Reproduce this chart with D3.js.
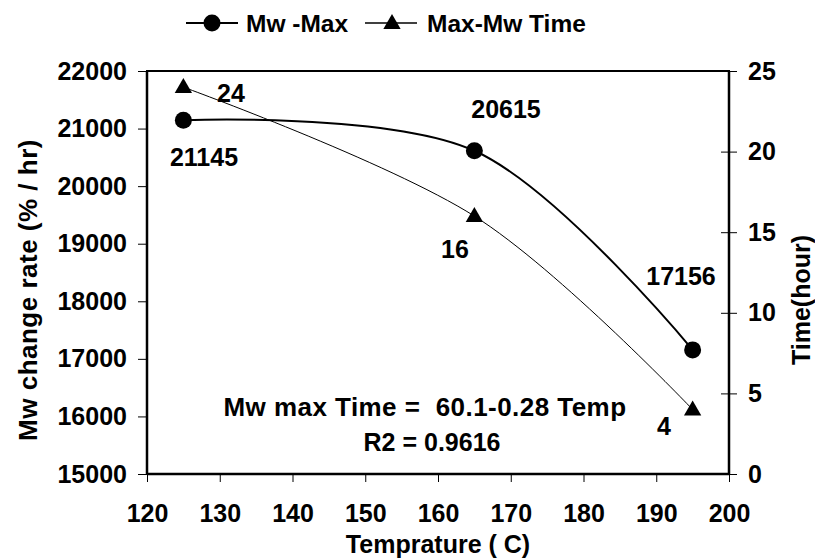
<!DOCTYPE html>
<html>
<head>
<meta charset="utf-8">
<script src="https://cdn.jsdelivr.net/npm/d3@7"></script>
<style>
  html, body { margin: 0; padding: 0; background: #fff; }
  svg { display: block; }
  text { font-family: "Liberation Sans", Arial, sans-serif; font-weight: bold; fill: #000; }
</style>
</head>
<body>
<svg id="chart" width="815" height="560"></svg>
<script>
// Temperature (C) of each run
const temps = [125, 165, 195];
// Mw change rate at maximum (% / hr)
const mwMax = [21145, 20615, 17156];
// Time to reach maximum Mw (hour)
const maxTime = [24, 16, 4];

const xTicks = [120, 130, 140, 150, 160, 170, 180, 190, 200];
const yLeftTicks = [15000, 16000, 17000, 18000, 19000, 20000, 21000, 22000];
const yRightTicks = [0, 5, 10, 15, 20, 25];

const seriesNames = ["Mw -Max", "Max-Mw Time"];
const fitText = ["Mw max Time =  60.1-0.28 Temp", "R2 = 0.9616"];

const svg = d3.select("#chart");
const m = { left: 147, right: 729, top: 71, bottom: 474 };

const x = d3.scaleLinear().domain([120, 200]).range([m.left, m.right]);
const yL = d3.scaleLinear().domain([15000, 22000]).range([m.bottom, m.top]);
const yR = d3.scaleLinear().domain([0, 25]).range([m.bottom, m.top]);

// plot frame
svg.append("rect")
  .attr("x", m.left).attr("y", m.top)
  .attr("width", m.right - m.left).attr("height", m.bottom - m.top)
  .attr("fill", "none").attr("stroke", "#000").attr("stroke-width", 2);

// axes
const fs = 25;
const gx = svg.append("g").attr("transform", `translate(0,${m.bottom})`)
  .call(d3.axisBottom(x).tickValues(xTicks).tickSize(8).tickPadding(22).tickFormat(d3.format("d")));
const gl = svg.append("g").attr("transform", `translate(${m.left},0)`)
  .call(d3.axisLeft(yL).tickValues(yLeftTicks).tickSize(9).tickPadding(11).tickFormat(d3.format("d")));
const gr = svg.append("g").attr("transform", `translate(${m.right},0)`)
  .call(d3.axisRight(yR).tickValues(yRightTicks).tickSize(8).tickPadding(11).tickFormat(d3.format("d")));
gr.selectAll(".tick line").attr("x1", -8);

[gx, gl, gr].forEach(g => {
  g.select(".domain").attr("stroke-width", 2.5);
  g.selectAll(".tick line").attr("stroke", "#000").attr("stroke-width", 1);
  g.selectAll(".tick text").style("font-size", fs + "px")
    .style("font-family", '"Liberation Sans", Arial, sans-serif').style("font-weight", "bold");
});
gx.select(".domain").attr("d", `M${m.left},0H${m.right}`);
gl.select(".domain").attr("d", `M0,${m.top}V${m.bottom}`);
gr.select(".domain").attr("d", `M0,${m.top}V${m.bottom}`);
gx.selectAll(".tick text").attr("dy", "0.71em");

// smoothed series lines
const curve = d3.curveCardinal.tension(0);
const mwPts = temps.map((t, i) => [x(t), yL(mwMax[i])]);
const timePts = temps.map((t, i) => [x(t), yR(maxTime[i])]);

svg.append("path").attr("d", d3.line().curve(curve)(timePts))
  .attr("fill", "none").attr("stroke", "#000").attr("stroke-width", 1);
svg.append("path").attr("d", d3.line().curve(curve)(mwPts))
  .attr("fill", "none").attr("stroke", "#000").attr("stroke-width", 2);

const tri = d3.symbol().type(d3.symbolTriangle).size(130);
svg.selectAll("circle.mw").data(mwPts).enter().append("circle")
  .attr("cx", d => d[0]).attr("cy", d => d[1]).attr("r", 8.5).attr("fill", "#000");
svg.selectAll("path.tm").data(timePts).enter().append("path")
  .attr("d", tri).attr("transform", d => `translate(${d[0]},${d[1] + 1})`).attr("fill", "#000");

// value labels
const mwLabelPos = [[204, 166], [506, 118], [681, 285]];
const timeLabelPos = [[231, 102], [455, 258], [664, 435]];
mwMax.forEach((v, i) => svg.append("text").attr("x", mwLabelPos[i][0]).attr("y", mwLabelPos[i][1])
  .attr("text-anchor", "middle").style("font-size", fs + "px").text(v));
maxTime.forEach((v, i) => svg.append("text").attr("x", timeLabelPos[i][0]).attr("y", timeLabelPos[i][1])
  .attr("text-anchor", "middle").style("font-size", fs + "px").text(v));

// regression note
svg.append("text").attr("x", 425).attr("y", 416).attr("text-anchor", "middle")
  .style("font-size", "26px").style("letter-spacing", "0.45px").style("white-space", "pre")
  .attr("xml:space", "preserve").text(fitText[0]);
svg.append("text").attr("x", 432).attr("y", 451).attr("text-anchor", "middle")
  .style("font-size", fs + "px").text(fitText[1]);

// axis titles
svg.append("text").attr("x", (m.left + m.right) / 2).attr("y", 553).attr("text-anchor", "middle")
  .style("font-size", fs + "px").text("Temprature ( C)");
svg.append("text").attr("transform", "translate(37,290) rotate(-90)").attr("text-anchor", "middle")
  .style("font-size", "26px").style("letter-spacing", "0.5px").text("Mw change rate (% / hr)");
svg.append("text").attr("transform", "translate(810,300) rotate(-90)").attr("text-anchor", "middle")
  .style("font-size", fs + "px").text("Time(hour)");

// legend
const lg = svg.append("g");
lg.append("line").attr("x1", 186).attr("x2", 238).attr("y1", 23).attr("y2", 23).attr("stroke", "#000").attr("stroke-width", 2);
lg.append("circle").attr("cx", 212).attr("cy", 23).attr("r", 8.5).attr("fill", "#000");
lg.append("text").attr("x", 246).attr("y", 32).style("font-size", "24.5px").text(seriesNames[0]);
lg.append("line").attr("x1", 365).attr("x2", 417).attr("y1", 23).attr("y2", 23).attr("stroke", "#000").attr("stroke-width", 1.5);
lg.append("path").attr("d", tri).attr("transform", "translate(392,24)").attr("fill", "#000");
lg.append("text").attr("x", 427).attr("y", 32).style("font-size", "24.5px").text(seriesNames[1]);
</script>
</body>
</html>
